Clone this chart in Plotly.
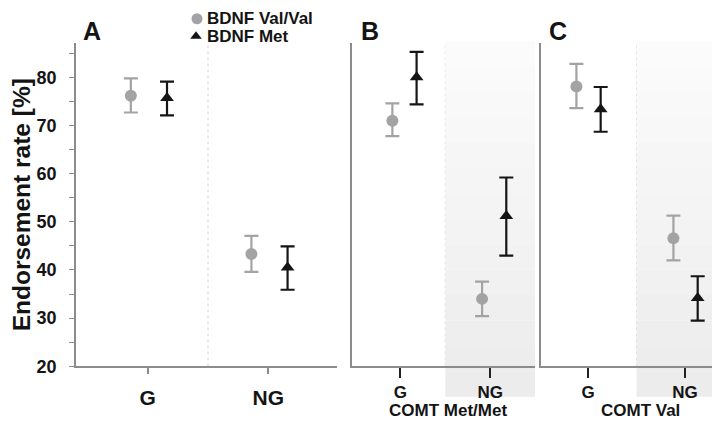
import plotly.graph_objects as go

# ---------------- data ----------------
conditions = ["G", "NG"]
series_names = ["BDNF Val/Val", "BDNF Met"]
panel_labels = ["A", "B", "C"]
panel_titles = ["", "COMT Met/Met", "COMT Val"]

# Panel A (all)
a_val = [76.2, 43.3]
a_val_hi = [79.8, 47.1]
a_val_lo = [72.7, 39.6]
a_met = [75.7, 40.5]
a_met_hi = [79.1, 44.9]
a_met_lo = [72.1, 35.9]

# Panel B (COMT Met/Met)
b_val = [71.0, 34.0]
b_val_hi = [74.6, 37.6]
b_val_lo = [67.8, 30.4]
b_met = [80.0, 51.2]
b_met_hi = [85.3, 59.2]
b_met_lo = [74.4, 43.0]

# Panel C (COMT Val)
c_val = [78.1, 46.6]
c_val_hi = [82.8, 51.3]
c_val_lo = [73.6, 42.0]
c_met = [73.4, 34.2]
c_met_hi = [78.0, 38.7]
c_met_lo = [68.7, 29.5]

y_ticks = [20, 25, 30, 35, 40, 45, 50, 55, 60, 65, 70, 75, 80, 85]
y_ticktext = ["<b>%d</b>" % v if v % 10 == 0 else "" for v in y_ticks]

# ---------------- style ----------------
W, H = 720, 422
GRAY = "#a3a3a3"
BLACK = "#151515"
AXIS = "#8c8c8c"
FONT = "Liberation Sans"
TXT = "#141414"

panels = [
    dict(vals=(a_val, a_val_hi, a_val_lo), mets=(a_met, a_met_hi, a_met_lo),
         px=(68, 329), xr=(-0.095, 2.07), offs=(-0.14, 0.16)),
    dict(vals=(b_val, b_val_hi, b_val_lo), mets=(b_met, b_met_hi, b_met_lo),
         px=(344, 527), xr=(-0.04, 2.0), offs=(-0.09, 0.18)),
    dict(vals=(c_val, c_val_hi, c_val_lo), mets=(c_met, c_met_hi, c_met_lo),
         px=(533, 712), xr=(0.015, 1.86), offs=(-0.12, 0.13)),
]
y_top_px, y_bot_px = 36, 367
ydom = [(H - y_bot_px) / H, (H - y_top_px) / H]
yrange = [20, 87.1]
styles = [(GRAY, "circle", 12), (BLACK, "triangle-up", 12)]

fig = go.Figure()
base = [0.5, 1.5]

for i, p in enumerate(panels):
    ax = "" if i == 0 else str(i + 1)
    for s, key in enumerate(["vals", "mets"]):
        color, sym, ms = styles[s]
        v, hi, lo = p[key]
        xs = [b + p["offs"][s] for b in base]
        fig.add_trace(go.Scatter(
            x=xs, y=v, mode="markers", name=series_names[s], showlegend=False,
            marker=dict(color=color, symbol=sym, size=ms, line=dict(width=0)),
            error_y=dict(type="data", symmetric=False,
                         array=[h - m for h, m in zip(hi, v)],
                         arrayminus=[m - l for m, l in zip(v, lo)],
                         color=color, thickness=2.2, width=7),
            xaxis="x" + ax, yaxis="y" + ax,
        ))

# manual legend (pixel coordinates on an invisible overlay axis)
legend_px = [(189, 11), (188, 29)]
for s, (lx, ly) in enumerate(legend_px):
    color, sym, ms = styles[s]
    fig.add_trace(go.Scatter(x=[lx], y=[ly], mode="markers", showlegend=False,
                             marker=dict(color=color, symbol=sym, size=11 if s == 0 else 10,
                                         line=dict(width=0)),
                             xaxis="x4", yaxis="y4", hoverinfo="skip"))

layout = dict(
    width=W, height=H, margin=dict(l=0, r=0, t=0, b=0),
    paper_bgcolor="white", plot_bgcolor="rgba(0,0,0,0)",
    font=dict(family=FONT, color=TXT, size=16),
    showlegend=False,
    xaxis4=dict(domain=[0, 1], range=[0, W], visible=False, fixedrange=True, anchor="y4"),
    yaxis4=dict(domain=[0, 1], range=[H, 0], visible=False, fixedrange=True, anchor="x4"),
)
shapes = []
annotations = []
for s, (lx, ly) in enumerate(legend_px):
    annotations.append(dict(text="<b>" + series_names[s] + "</b>", xref="paper", yref="paper",
                            x=197 / W, y=1 - ly / H, xanchor="left", yanchor="middle",
                            showarrow=False, font=dict(size=17, family=FONT, color=TXT)))

n_bands = 14
for i, p in enumerate(panels):
    ax = "" if i == 0 else str(i + 1)
    big = i == 0
    layout["xaxis" + ax] = dict(
        domain=[p["px"][0] / W, p["px"][1] / W], range=list(p["xr"]),
        tickvals=base, ticktext=["<b>%s</b>" % c for c in conditions], ticks="outside",
        ticklen=6 if big else 10, tickwidth=1.5, tickcolor=AXIS if big else "#222",
        showline=True, linecolor=AXIS, linewidth=1.5,
        showgrid=False, zeroline=False, fixedrange=True,
        tickfont=dict(size=21 if big else 17, family=FONT, color=TXT),
        ticklabelstandoff=6 if big else 0,
        anchor="y" + ax,
    )
    layout["yaxis" + ax] = dict(
        domain=ydom, range=yrange, anchor="x" + ax,
        showline=True, linecolor=AXIS, linewidth=1.5,
        showgrid=False, zeroline=False, fixedrange=True,
        tickvals=y_ticks if big else [], ticktext=y_ticktext if big else [],
        ticks="outside" if big else "", ticklen=5, tickwidth=1.2, tickcolor=AXIS,
        tickfont=dict(size=18, family=FONT, color=TXT),
        ticklabelstandoff=9 if big else 0,
        title=dict(text="<b>Endorsement rate [%]</b>" if big else "",
                   font=dict(size=24.5, family=FONT, color=TXT), standoff=9),
    )
    # dashed separator between G and NG
    shapes.append(dict(type="line", xref="x" + ax, yref="paper", x0=1, x1=1,
                       y0=ydom[0], y1=ydom[1], layer="below",
                       line=dict(color="#d4d4d4", width=1, dash="dot")))
    if i > 0:
        # shaded NG region drawn as a vertical gradient
        top_px, bot_px = 34, 398
        for k in range(n_bands):
            t = k / (n_bands - 1)
            g = int(round(251 - t * (251 - 236)))
            y0p = top_px + (bot_px - top_px) * k / n_bands
            y1p = top_px + (bot_px - top_px) * (k + 1) / n_bands
            shapes.append(dict(type="rect", xref="x" + ax, yref="paper", x0=1, x1=p["xr"][1],
                               y0=1 - y1p / H - 0.0005, y1=1 - y0p / H, layer="below",
                               fillcolor="rgb(%d,%d,%d)" % (g, g, g), line=dict(width=0)))
        tx = [0, 440, 632][i]
        annotations.append(dict(text="<b>" + panel_titles[i] + "</b>", xref="paper", yref="paper",
                                x=tx / W, y=1 - 412.5 / H, xanchor="center", yanchor="middle",
                                showarrow=False, font=dict(size=17, family=FONT, color=TXT)))
    lx = [84, 362, 550][i]
    annotations.append(dict(text="<b>" + panel_labels[i] + "</b>", xref="paper", yref="paper",
                            x=lx / W, y=1 - 24 / H, xanchor="center", yanchor="middle",
                            showarrow=False, font=dict(size=25, family=FONT, color=TXT)))

layout["shapes"] = shapes
layout["annotations"] = annotations
fig.update_layout(**layout)
fig.write_html("out.html")
